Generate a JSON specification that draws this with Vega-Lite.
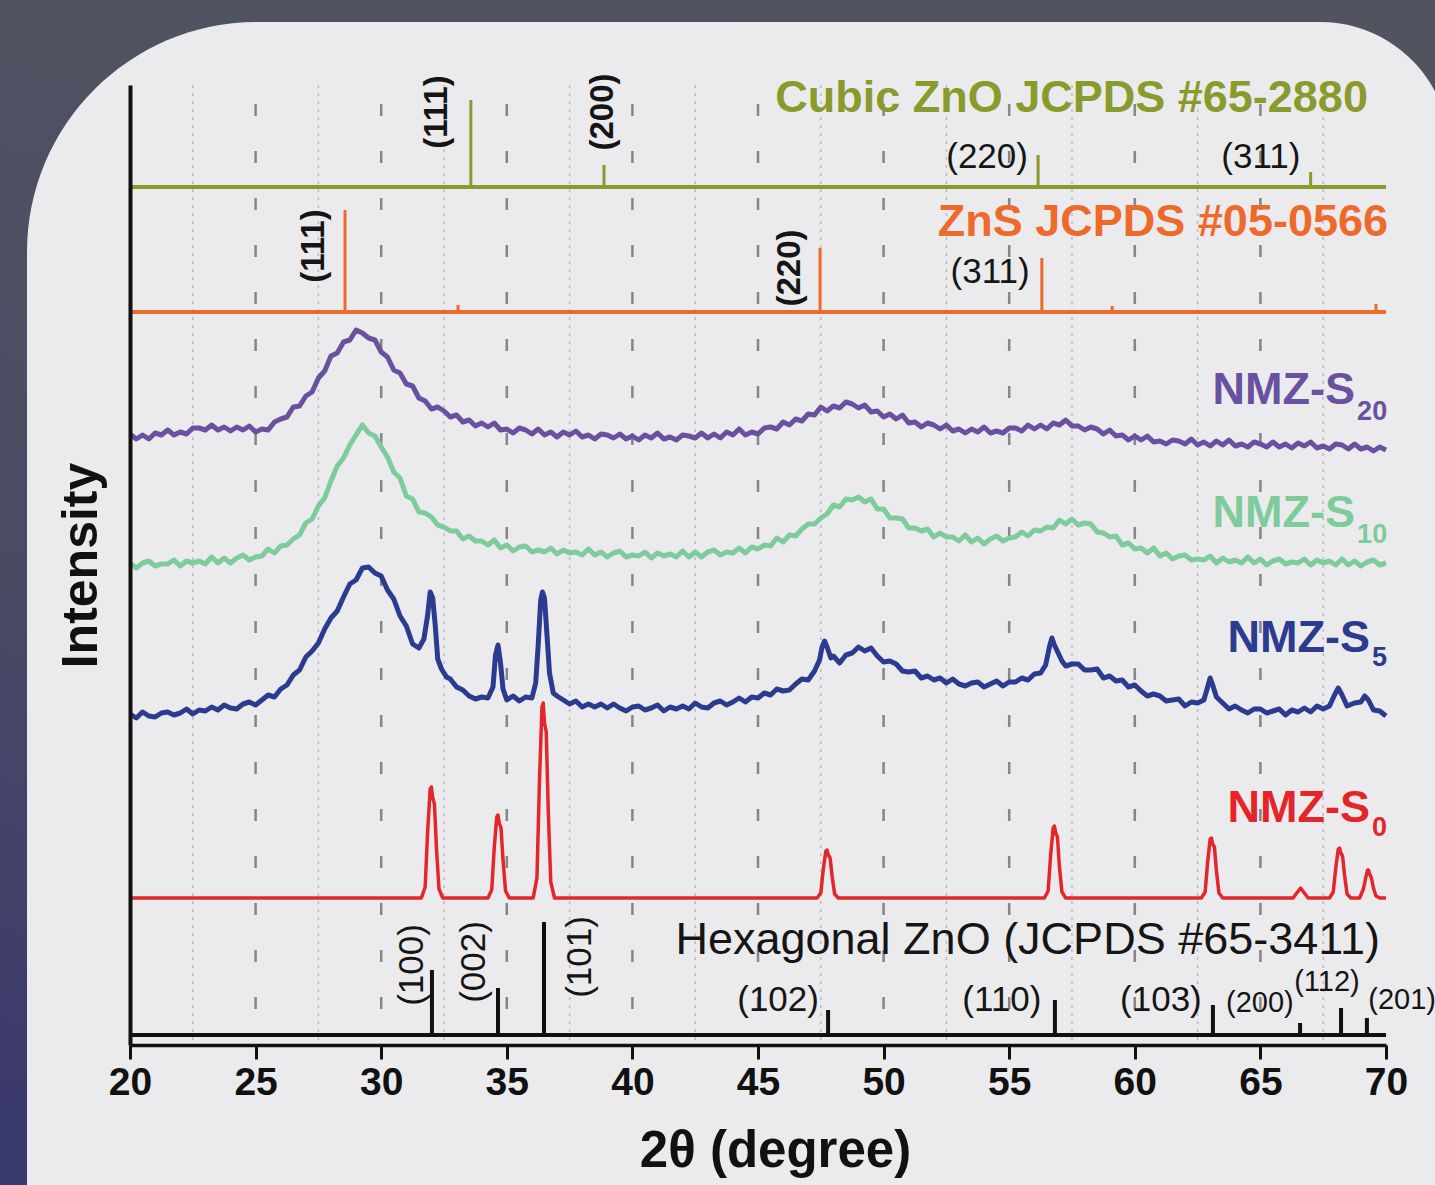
{
"$schema": "https://vega.github.io/schema/vega-lite/v6.json",
"width": 1256, "height": 960,
"autosize": {"type": "none"},
"padding": {"left": 130, "top": 85, "right": 49, "bottom": 140},
"background": "#4b4e60",
"config": {"view": {"stroke": null}, "font": "Liberation Sans"},
"datasets": {
"minor": [{"t":22.5},{"t":27.5},{"t":32.5},{"t":37.5},{"t":42.5},{"t":47.5},{"t":52.5},{"t":57.5},{"t":62.5},{"t":67.5}],
"major": [{"t":25},{"t":30},{"t":35},{"t":40},{"t":45},{"t":50},{"t":55},{"t":60},{"t":65}],
"bases": [{"c":"cubic","v":858},{"c":"zns","v":733},{"c":"hex","v":10}],
"sticks": [
{"c":"cubic","t":33.57,"v":945},{"c":"cubic","t":38.87,"v":880},{"c":"cubic","t":56.15,"v":890},{"c":"cubic","t":67.0,"v":873},
{"c":"zns","t":28.56,"v":835},{"c":"zns","t":33.06,"v":740},{"c":"zns","t":47.47,"v":797},{"c":"zns","t":56.3,"v":787},{"c":"zns","t":59.1,"v":739},{"c":"zns","t":69.6,"v":741},
{"c":"hex","t":32.02,"v":75},{"c":"hex","t":34.65,"v":57},{"c":"hex","t":36.48,"v":123},{"c":"hex","t":47.79,"v":35},{"c":"hex","t":56.82,"v":45},{"c":"hex","t":63.11,"v":40},{"c":"hex","t":66.58,"v":22},{"c":"hex","t":68.21,"v":37},{"c":"hex","t":69.24,"v":27}],
"big": [
{"c":"cubic","txt":"Cubic ZnO JCPDS #65-2880","t":69.28,"v":947},
{"c":"zns","txt":"ZnS JCPDS #05-0566","t":70.08,"v":823},
{"c":"S20","txt":"NMZ-S","t":68.77,"v":655},
{"c":"S10","txt":"NMZ-S","t":68.77,"v":532},
{"c":"S5","txt":"NMZ-S","t":69.36,"v":407},
{"c":"S0","txt":"NMZ-S","t":69.36,"v":237}],
"subs": [
{"c":"S20","txt":"20","t":68.85,"v":633},
{"c":"S10","txt":"10","t":68.85,"v":510},
{"c":"S5","txt":"5","t":69.44,"v":387},
{"c":"S0","txt":"0","t":69.44,"v":217}],
"hexlabel": [{"txt":"Hexagonal ZnO (JCPDS #65-3411)","t":69.76,"v":105}],
"millerH": [
{"txt":"(220)","t":54.12,"v":888},{"txt":"(311)","t":65.02,"v":888},{"txt":"(311)","t":54.24,"v":773},
{"txt":"(102)","t":45.8,"v":45},{"txt":"(110)","t":54.71,"v":45},{"txt":"(103)","t":61.04,"v":45}],
"millerS": [{"txt":"(200)","t":64.98,"v":42},{"txt":"(112)","t":67.65,"v":63},{"txt":"(201)","t":70.64,"v":45}],
"millerRtop": [
{"txt":"(111)","t":32.22,"v":933},{"txt":"(200)","t":38.83,"v":933},{"txt":"(111)","t":27.33,"v":799},{"txt":"(220)","t":46.27,"v":777}],
"millerR": [
{"txt":"(100)","t":31.23,"v":80},{"txt":"(002)","t":33.69,"v":83},{"txt":"(101)","t":37.91,"v":88}],
"curves": [
{"c":"S20","t":20,"v":611},{"c":"S20","t":20.25,"v":606},{"c":"S20","t":20.5,"v":610},{"c":"S20","t":20.75,"v":606},{"c":"S20","t":21,"v":612},{"c":"S20","t":21.25,"v":610},{"c":"S20","t":21.5,"v":615},{"c":"S20","t":21.75,"v":610},{"c":"S20","t":22,"v":613},{"c":"S20","t":22.25,"v":611},{"c":"S20","t":22.5,"v":617},{"c":"S20","t":22.75,"v":617},{"c":"S20","t":23,"v":615},{"c":"S20","t":23.25,"v":620},{"c":"S20","t":23.5,"v":615},{"c":"S20","t":23.75,"v":618},{"c":"S20","t":24,"v":614},{"c":"S20","t":24.25,"v":618},{"c":"S20","t":24.5,"v":615},{"c":"S20","t":24.75,"v":619},{"c":"S20","t":25,"v":613},{"c":"S20","t":25.25,"v":616},{"c":"S20","t":25.5,"v":615},{"c":"S20","t":25.75,"v":623},{"c":"S20","t":26,"v":626},{"c":"S20","t":26.25,"v":628},{"c":"S20","t":26.5,"v":638},{"c":"S20","t":26.75,"v":639},{"c":"S20","t":27,"v":649},{"c":"S20","t":27.25,"v":653},{"c":"S20","t":27.5,"v":667},{"c":"S20","t":27.75,"v":674},{"c":"S20","t":28,"v":689},{"c":"S20","t":28.25,"v":692},{"c":"S20","t":28.5,"v":703},{"c":"S20","t":28.75,"v":705},{"c":"S20","t":29,"v":715},{"c":"S20","t":29.25,"v":712},{"c":"S20","t":29.5,"v":707},{"c":"S20","t":29.75,"v":705},{"c":"S20","t":30,"v":693},{"c":"S20","t":30.25,"v":688},{"c":"S20","t":30.5,"v":675},{"c":"S20","t":30.75,"v":672},{"c":"S20","t":31,"v":661},{"c":"S20","t":31.25,"v":659},{"c":"S20","t":31.5,"v":647},{"c":"S20","t":31.75,"v":644},{"c":"S20","t":32,"v":636},{"c":"S20","t":32.25,"v":638},{"c":"S20","t":32.5,"v":634},{"c":"S20","t":32.75,"v":628},{"c":"S20","t":33,"v":630},{"c":"S20","t":33.25,"v":623},{"c":"S20","t":33.5,"v":625},{"c":"S20","t":33.75,"v":619},{"c":"S20","t":34,"v":622},{"c":"S20","t":34.25,"v":618},{"c":"S20","t":34.5,"v":622},{"c":"S20","t":34.75,"v":615},{"c":"S20","t":35,"v":616},{"c":"S20","t":35.25,"v":612},{"c":"S20","t":35.5,"v":617},{"c":"S20","t":35.75,"v":615},{"c":"S20","t":36,"v":611},{"c":"S20","t":36.25,"v":616},{"c":"S20","t":36.5,"v":610},{"c":"S20","t":36.75,"v":613},{"c":"S20","t":37,"v":608},{"c":"S20","t":37.25,"v":613},{"c":"S20","t":37.5,"v":610},{"c":"S20","t":37.75,"v":614},{"c":"S20","t":38,"v":608},{"c":"S20","t":38.25,"v":610},{"c":"S20","t":38.5,"v":606},{"c":"S20","t":38.75,"v":611},{"c":"S20","t":39,"v":610},{"c":"S20","t":39.25,"v":607},{"c":"S20","t":39.5,"v":611},{"c":"S20","t":39.75,"v":606},{"c":"S20","t":40,"v":609},{"c":"S20","t":40.25,"v":605},{"c":"S20","t":40.5,"v":610},{"c":"S20","t":40.75,"v":607},{"c":"S20","t":41,"v":612},{"c":"S20","t":41.25,"v":606},{"c":"S20","t":41.5,"v":608},{"c":"S20","t":41.75,"v":605},{"c":"S20","t":42,"v":610},{"c":"S20","t":42.25,"v":609},{"c":"S20","t":42.5,"v":607},{"c":"S20","t":42.75,"v":612},{"c":"S20","t":43,"v":607},{"c":"S20","t":43.25,"v":611},{"c":"S20","t":43.5,"v":607},{"c":"S20","t":43.75,"v":613},{"c":"S20","t":44,"v":610},{"c":"S20","t":44.25,"v":616},{"c":"S20","t":44.5,"v":610},{"c":"S20","t":44.75,"v":613},{"c":"S20","t":45,"v":611},{"c":"S20","t":45.25,"v":617},{"c":"S20","t":45.5,"v":618},{"c":"S20","t":45.75,"v":616},{"c":"S20","t":46,"v":623},{"c":"S20","t":46.25,"v":620},{"c":"S20","t":46.5,"v":626},{"c":"S20","t":46.75,"v":624},{"c":"S20","t":47,"v":631},{"c":"S20","t":47.25,"v":630},{"c":"S20","t":47.5,"v":638},{"c":"S20","t":47.75,"v":634},{"c":"S20","t":48,"v":639},{"c":"S20","t":48.25,"v":637},{"c":"S20","t":48.5,"v":643},{"c":"S20","t":48.75,"v":641},{"c":"S20","t":49,"v":637},{"c":"S20","t":49.25,"v":640},{"c":"S20","t":49.5,"v":633},{"c":"S20","t":49.75,"v":634},{"c":"S20","t":50,"v":628},{"c":"S20","t":50.25,"v":631},{"c":"S20","t":50.5,"v":626},{"c":"S20","t":50.75,"v":630},{"c":"S20","t":51,"v":622},{"c":"S20","t":51.25,"v":623},{"c":"S20","t":51.5,"v":618},{"c":"S20","t":51.75,"v":622},{"c":"S20","t":52,"v":620},{"c":"S20","t":52.25,"v":616},{"c":"S20","t":52.5,"v":620},{"c":"S20","t":52.75,"v":614},{"c":"S20","t":53,"v":616},{"c":"S20","t":53.25,"v":612},{"c":"S20","t":53.5,"v":616},{"c":"S20","t":53.75,"v":613},{"c":"S20","t":54,"v":618},{"c":"S20","t":54.25,"v":612},{"c":"S20","t":54.5,"v":614},{"c":"S20","t":54.75,"v":612},{"c":"S20","t":55,"v":617},{"c":"S20","t":55.25,"v":617},{"c":"S20","t":55.5,"v":614},{"c":"S20","t":55.75,"v":620},{"c":"S20","t":56,"v":616},{"c":"S20","t":56.25,"v":620},{"c":"S20","t":56.5,"v":616},{"c":"S20","t":56.75,"v":622},{"c":"S20","t":57,"v":620},{"c":"S20","t":57.25,"v":625},{"c":"S20","t":57.5,"v":619},{"c":"S20","t":57.75,"v":619},{"c":"S20","t":58,"v":615},{"c":"S20","t":58.25,"v":618},{"c":"S20","t":58.5,"v":616},{"c":"S20","t":58.75,"v":611},{"c":"S20","t":59,"v":615},{"c":"S20","t":59.25,"v":609},{"c":"S20","t":59.5,"v":610},{"c":"S20","t":59.75,"v":605},{"c":"S20","t":60,"v":609},{"c":"S20","t":60.25,"v":605},{"c":"S20","t":60.5,"v":609},{"c":"S20","t":60.75,"v":603},{"c":"S20","t":61,"v":604},{"c":"S20","t":61.25,"v":601},{"c":"S20","t":61.5,"v":605},{"c":"S20","t":61.75,"v":604},{"c":"S20","t":62,"v":601},{"c":"S20","t":62.25,"v":606},{"c":"S20","t":62.5,"v":600},{"c":"S20","t":62.75,"v":603},{"c":"S20","t":63,"v":599},{"c":"S20","t":63.25,"v":604},{"c":"S20","t":63.5,"v":600},{"c":"S20","t":63.75,"v":605},{"c":"S20","t":64,"v":599},{"c":"S20","t":64.25,"v":601},{"c":"S20","t":64.5,"v":598},{"c":"S20","t":64.75,"v":603},{"c":"S20","t":65,"v":601},{"c":"S20","t":65.25,"v":598},{"c":"S20","t":65.5,"v":603},{"c":"S20","t":65.75,"v":598},{"c":"S20","t":66,"v":601},{"c":"S20","t":66.25,"v":597},{"c":"S20","t":66.5,"v":602},{"c":"S20","t":66.75,"v":599},{"c":"S20","t":67,"v":603},{"c":"S20","t":67.25,"v":597},{"c":"S20","t":67.5,"v":599},{"c":"S20","t":67.75,"v":596},{"c":"S20","t":68,"v":601},{"c":"S20","t":68.25,"v":600},{"c":"S20","t":68.5,"v":596},{"c":"S20","t":68.75,"v":601},{"c":"S20","t":69,"v":596},{"c":"S20","t":69.25,"v":598},{"c":"S20","t":69.5,"v":594},{"c":"S20","t":69.75,"v":598},{"c":"S20","t":70,"v":595},
{"c":"S10","t":20,"v":482},{"c":"S10","t":20.25,"v":477},{"c":"S10","t":20.5,"v":482},{"c":"S10","t":20.75,"v":484},{"c":"S10","t":21,"v":479},{"c":"S10","t":21.25,"v":481},{"c":"S10","t":21.5,"v":481},{"c":"S10","t":21.75,"v":485},{"c":"S10","t":22,"v":479},{"c":"S10","t":22.25,"v":484},{"c":"S10","t":22.5,"v":482},{"c":"S10","t":22.75,"v":484},{"c":"S10","t":23,"v":481},{"c":"S10","t":23.25,"v":488},{"c":"S10","t":23.5,"v":482},{"c":"S10","t":23.75,"v":487},{"c":"S10","t":24,"v":482},{"c":"S10","t":24.25,"v":487},{"c":"S10","t":24.5,"v":490},{"c":"S10","t":24.75,"v":485},{"c":"S10","t":25,"v":488},{"c":"S10","t":25.25,"v":489},{"c":"S10","t":25.5,"v":496},{"c":"S10","t":25.75,"v":492},{"c":"S10","t":26,"v":499},{"c":"S10","t":26.25,"v":500},{"c":"S10","t":26.5,"v":506},{"c":"S10","t":26.75,"v":510},{"c":"S10","t":27,"v":522},{"c":"S10","t":27.25,"v":526},{"c":"S10","t":27.5,"v":539},{"c":"S10","t":27.75,"v":547},{"c":"S10","t":28,"v":564},{"c":"S10","t":28.25,"v":579},{"c":"S10","t":28.5,"v":587},{"c":"S10","t":28.75,"v":600},{"c":"S10","t":29,"v":610},{"c":"S10","t":29.25,"v":620},{"c":"S10","t":29.5,"v":612},{"c":"S10","t":29.75,"v":609},{"c":"S10","t":30,"v":598},{"c":"S10","t":30.25,"v":588},{"c":"S10","t":30.5,"v":573},{"c":"S10","t":30.75,"v":567},{"c":"S10","t":31,"v":549},{"c":"S10","t":31.25,"v":546},{"c":"S10","t":31.5,"v":533},{"c":"S10","t":31.75,"v":532},{"c":"S10","t":32,"v":528},{"c":"S10","t":32.25,"v":520},{"c":"S10","t":32.5,"v":518},{"c":"S10","t":32.75,"v":514},{"c":"S10","t":33,"v":514},{"c":"S10","t":33.25,"v":506},{"c":"S10","t":33.5,"v":509},{"c":"S10","t":33.75,"v":504},{"c":"S10","t":34,"v":504},{"c":"S10","t":34.25,"v":500},{"c":"S10","t":34.5,"v":505},{"c":"S10","t":34.75,"v":497},{"c":"S10","t":35,"v":500},{"c":"S10","t":35.25,"v":494},{"c":"S10","t":35.5,"v":498},{"c":"S10","t":35.75,"v":499},{"c":"S10","t":36,"v":493},{"c":"S10","t":36.25,"v":495},{"c":"S10","t":36.5,"v":493},{"c":"S10","t":36.75,"v":497},{"c":"S10","t":37,"v":491},{"c":"S10","t":37.25,"v":495},{"c":"S10","t":37.5,"v":492},{"c":"S10","t":37.75,"v":493},{"c":"S10","t":38,"v":490},{"c":"S10","t":38.25,"v":496},{"c":"S10","t":38.5,"v":490},{"c":"S10","t":38.75,"v":493},{"c":"S10","t":39,"v":488},{"c":"S10","t":39.25,"v":492},{"c":"S10","t":39.5,"v":494},{"c":"S10","t":39.75,"v":488},{"c":"S10","t":40,"v":490},{"c":"S10","t":40.25,"v":489},{"c":"S10","t":40.5,"v":493},{"c":"S10","t":40.75,"v":487},{"c":"S10","t":41,"v":492},{"c":"S10","t":41.25,"v":489},{"c":"S10","t":41.5,"v":491},{"c":"S10","t":41.75,"v":488},{"c":"S10","t":42,"v":494},{"c":"S10","t":42.25,"v":488},{"c":"S10","t":42.5,"v":493},{"c":"S10","t":42.75,"v":488},{"c":"S10","t":43,"v":493},{"c":"S10","t":43.25,"v":495},{"c":"S10","t":43.5,"v":490},{"c":"S10","t":43.75,"v":493},{"c":"S10","t":44,"v":492},{"c":"S10","t":44.25,"v":497},{"c":"S10","t":44.5,"v":492},{"c":"S10","t":44.75,"v":498},{"c":"S10","t":45,"v":496},{"c":"S10","t":45.25,"v":500},{"c":"S10","t":45.5,"v":499},{"c":"S10","t":45.75,"v":507},{"c":"S10","t":46,"v":503},{"c":"S10","t":46.25,"v":510},{"c":"S10","t":46.5,"v":509},{"c":"S10","t":46.75,"v":516},{"c":"S10","t":47,"v":521},{"c":"S10","t":47.25,"v":521},{"c":"S10","t":47.5,"v":527},{"c":"S10","t":47.75,"v":531},{"c":"S10","t":48,"v":540},{"c":"S10","t":48.25,"v":538},{"c":"S10","t":48.5,"v":546},{"c":"S10","t":48.75,"v":545},{"c":"S10","t":49,"v":548},{"c":"S10","t":49.25,"v":543},{"c":"S10","t":49.5,"v":546},{"c":"S10","t":49.75,"v":536},{"c":"S10","t":50,"v":536},{"c":"S10","t":50.25,"v":527},{"c":"S10","t":50.5,"v":527},{"c":"S10","t":50.75,"v":526},{"c":"S10","t":51,"v":517},{"c":"S10","t":51.25,"v":517},{"c":"S10","t":51.5,"v":514},{"c":"S10","t":51.75,"v":516},{"c":"S10","t":52,"v":508},{"c":"S10","t":52.25,"v":512},{"c":"S10","t":52.5,"v":508},{"c":"S10","t":52.75,"v":508},{"c":"S10","t":53,"v":504},{"c":"S10","t":53.25,"v":510},{"c":"S10","t":53.5,"v":503},{"c":"S10","t":53.75,"v":507},{"c":"S10","t":54,"v":501},{"c":"S10","t":54.25,"v":506},{"c":"S10","t":54.5,"v":509},{"c":"S10","t":54.75,"v":504},{"c":"S10","t":55,"v":507},{"c":"S10","t":55.25,"v":508},{"c":"S10","t":55.5,"v":513},{"c":"S10","t":55.75,"v":509},{"c":"S10","t":56,"v":515},{"c":"S10","t":56.25,"v":514},{"c":"S10","t":56.5,"v":518},{"c":"S10","t":56.75,"v":517},{"c":"S10","t":57,"v":525},{"c":"S10","t":57.25,"v":521},{"c":"S10","t":57.5,"v":526},{"c":"S10","t":57.75,"v":520},{"c":"S10","t":58,"v":522},{"c":"S10","t":58.25,"v":521},{"c":"S10","t":58.5,"v":513},{"c":"S10","t":58.75,"v":512},{"c":"S10","t":59,"v":508},{"c":"S10","t":59.25,"v":509},{"c":"S10","t":59.5,"v":500},{"c":"S10","t":59.75,"v":502},{"c":"S10","t":60,"v":496},{"c":"S10","t":60.25,"v":497},{"c":"S10","t":60.5,"v":492},{"c":"S10","t":60.75,"v":497},{"c":"S10","t":61,"v":489},{"c":"S10","t":61.25,"v":492},{"c":"S10","t":61.5,"v":486},{"c":"S10","t":61.75,"v":489},{"c":"S10","t":62,"v":490},{"c":"S10","t":62.25,"v":485},{"c":"S10","t":62.5,"v":486},{"c":"S10","t":62.75,"v":485},{"c":"S10","t":63,"v":489},{"c":"S10","t":63.25,"v":482},{"c":"S10","t":63.5,"v":487},{"c":"S10","t":63.75,"v":483},{"c":"S10","t":64,"v":485},{"c":"S10","t":64.25,"v":482},{"c":"S10","t":64.5,"v":488},{"c":"S10","t":64.75,"v":482},{"c":"S10","t":65,"v":486},{"c":"S10","t":65.25,"v":480},{"c":"S10","t":65.5,"v":484},{"c":"S10","t":65.75,"v":486},{"c":"S10","t":66,"v":481},{"c":"S10","t":66.25,"v":483},{"c":"S10","t":66.5,"v":482},{"c":"S10","t":66.75,"v":486},{"c":"S10","t":67,"v":480},{"c":"S10","t":67.25,"v":485},{"c":"S10","t":67.5,"v":482},{"c":"S10","t":67.75,"v":484},{"c":"S10","t":68,"v":480},{"c":"S10","t":68.25,"v":486},{"c":"S10","t":68.5,"v":480},{"c":"S10","t":68.75,"v":484},{"c":"S10","t":69,"v":479},{"c":"S10","t":69.25,"v":483},{"c":"S10","t":69.5,"v":485},{"c":"S10","t":69.75,"v":480},{"c":"S10","t":70,"v":482},
{"c":"S5","t":20,"v":331},{"c":"S5","t":20.25,"v":327},{"c":"S5","t":20.5,"v":333},{"c":"S5","t":20.75,"v":329},{"c":"S5","t":21,"v":328},{"c":"S5","t":21.25,"v":332},{"c":"S5","t":21.5,"v":333},{"c":"S5","t":21.75,"v":330},{"c":"S5","t":22,"v":332},{"c":"S5","t":22.25,"v":336},{"c":"S5","t":22.5,"v":331},{"c":"S5","t":22.75,"v":335},{"c":"S5","t":23,"v":334},{"c":"S5","t":23.25,"v":338},{"c":"S5","t":23.5,"v":335},{"c":"S5","t":23.75,"v":340},{"c":"S5","t":24,"v":337},{"c":"S5","t":24.25,"v":336},{"c":"S5","t":24.5,"v":341},{"c":"S5","t":24.75,"v":343},{"c":"S5","t":25,"v":340},{"c":"S5","t":25.25,"v":345},{"c":"S5","t":25.5,"v":350},{"c":"S5","t":25.75,"v":348},{"c":"S5","t":26,"v":356},{"c":"S5","t":26.25,"v":360},{"c":"S5","t":26.5,"v":370},{"c":"S5","t":26.75,"v":375},{"c":"S5","t":27,"v":388},{"c":"S5","t":27.25,"v":394},{"c":"S5","t":27.5,"v":402},{"c":"S5","t":27.75,"v":416},{"c":"S5","t":28,"v":427},{"c":"S5","t":28.25,"v":434},{"c":"S5","t":28.5,"v":448},{"c":"S5","t":28.75,"v":461},{"c":"S5","t":29,"v":465},{"c":"S5","t":29.25,"v":477},{"c":"S5","t":29.5,"v":478},{"c":"S5","t":29.75,"v":472},{"c":"S5","t":30,"v":469},{"c":"S5","t":30.25,"v":455},{"c":"S5","t":30.5,"v":446},{"c":"S5","t":30.75,"v":429},{"c":"S5","t":31,"v":419},{"c":"S5","t":31.25,"v":401},{"c":"S5","t":31.5,"v":397},{"c":"S5","t":31.7,"v":406},{"c":"S5","t":31.85,"v":430},{"c":"S5","t":31.95,"v":453},{"c":"S5","t":32.05,"v":447},{"c":"S5","t":32.15,"v":420},{"c":"S5","t":32.25,"v":386},{"c":"S5","t":32.4,"v":376},{"c":"S5","t":32.6,"v":368},{"c":"S5","t":32.75,"v":366},{"c":"S5","t":33,"v":358},{"c":"S5","t":33.25,"v":355},{"c":"S5","t":33.5,"v":349},{"c":"S5","t":33.75,"v":346},{"c":"S5","t":34,"v":348},{"c":"S5","t":34.25,"v":347},{"c":"S5","t":34.45,"v":358},{"c":"S5","t":34.55,"v":390},{"c":"S5","t":34.65,"v":400},{"c":"S5","t":34.75,"v":382},{"c":"S5","t":34.85,"v":356},{"c":"S5","t":35,"v":345},{"c":"S5","t":35.25,"v":349},{"c":"S5","t":35.5,"v":344},{"c":"S5","t":35.75,"v":348},{"c":"S5","t":36,"v":347},{"c":"S5","t":36.15,"v":362},{"c":"S5","t":36.25,"v":400},{"c":"S5","t":36.35,"v":445},{"c":"S5","t":36.42,"v":453},{"c":"S5","t":36.5,"v":447},{"c":"S5","t":36.6,"v":410},{"c":"S5","t":36.7,"v":372},{"c":"S5","t":36.85,"v":352},{"c":"S5","t":37,"v":349},{"c":"S5","t":37.25,"v":345},{"c":"S5","t":37.5,"v":341},{"c":"S5","t":37.75,"v":344},{"c":"S5","t":38,"v":338},{"c":"S5","t":38.25,"v":341},{"c":"S5","t":38.5,"v":338},{"c":"S5","t":38.75,"v":341},{"c":"S5","t":39,"v":337},{"c":"S5","t":39.25,"v":341},{"c":"S5","t":39.5,"v":337},{"c":"S5","t":39.75,"v":334},{"c":"S5","t":40,"v":338},{"c":"S5","t":40.25,"v":339},{"c":"S5","t":40.5,"v":335},{"c":"S5","t":40.75,"v":337},{"c":"S5","t":41,"v":340},{"c":"S5","t":41.25,"v":334},{"c":"S5","t":41.5,"v":338},{"c":"S5","t":41.75,"v":336},{"c":"S5","t":42,"v":339},{"c":"S5","t":42.25,"v":336},{"c":"S5","t":42.5,"v":342},{"c":"S5","t":42.75,"v":338},{"c":"S5","t":43,"v":337},{"c":"S5","t":43.25,"v":342},{"c":"S5","t":43.5,"v":344},{"c":"S5","t":43.75,"v":340},{"c":"S5","t":44,"v":343},{"c":"S5","t":44.25,"v":347},{"c":"S5","t":44.5,"v":343},{"c":"S5","t":44.75,"v":348},{"c":"S5","t":45,"v":347},{"c":"S5","t":45.25,"v":352},{"c":"S5","t":45.5,"v":350},{"c":"S5","t":45.75,"v":356},{"c":"S5","t":46,"v":354},{"c":"S5","t":46.25,"v":355},{"c":"S5","t":46.5,"v":361},{"c":"S5","t":46.75,"v":366},{"c":"S5","t":47,"v":365},{"c":"S5","t":47.25,"v":374},{"c":"S5","t":47.45,"v":385},{"c":"S5","t":47.55,"v":398},{"c":"S5","t":47.65,"v":404},{"c":"S5","t":47.75,"v":398},{"c":"S5","t":47.9,"v":387},{"c":"S5","t":48,"v":389},{"c":"S5","t":48.25,"v":382},{"c":"S5","t":48.5,"v":390},{"c":"S5","t":48.75,"v":392},{"c":"S5","t":49,"v":398},{"c":"S5","t":49.25,"v":394},{"c":"S5","t":49.5,"v":397},{"c":"S5","t":49.75,"v":389},{"c":"S5","t":50,"v":383},{"c":"S5","t":50.25,"v":384},{"c":"S5","t":50.5,"v":381},{"c":"S5","t":50.75,"v":374},{"c":"S5","t":51,"v":373},{"c":"S5","t":51.25,"v":374},{"c":"S5","t":51.5,"v":367},{"c":"S5","t":51.75,"v":369},{"c":"S5","t":52,"v":365},{"c":"S5","t":52.25,"v":367},{"c":"S5","t":52.5,"v":362},{"c":"S5","t":52.75,"v":366},{"c":"S5","t":53,"v":361},{"c":"S5","t":53.25,"v":359},{"c":"S5","t":53.5,"v":362},{"c":"S5","t":53.75,"v":363},{"c":"S5","t":54,"v":358},{"c":"S5","t":54.25,"v":361},{"c":"S5","t":54.5,"v":364},{"c":"S5","t":54.75,"v":359},{"c":"S5","t":55,"v":363},{"c":"S5","t":55.25,"v":363},{"c":"S5","t":55.5,"v":367},{"c":"S5","t":55.75,"v":365},{"c":"S5","t":56,"v":371},{"c":"S5","t":56.25,"v":372},{"c":"S5","t":56.45,"v":380},{"c":"S5","t":56.6,"v":398},{"c":"S5","t":56.7,"v":407},{"c":"S5","t":56.8,"v":400},{"c":"S5","t":56.95,"v":392},{"c":"S5","t":57.1,"v":384},{"c":"S5","t":57.25,"v":379},{"c":"S5","t":57.5,"v":381},{"c":"S5","t":57.75,"v":381},{"c":"S5","t":58,"v":375},{"c":"S5","t":58.25,"v":375},{"c":"S5","t":58.5,"v":376},{"c":"S5","t":58.75,"v":367},{"c":"S5","t":59,"v":369},{"c":"S5","t":59.25,"v":364},{"c":"S5","t":59.5,"v":365},{"c":"S5","t":59.75,"v":358},{"c":"S5","t":60,"v":360},{"c":"S5","t":60.25,"v":354},{"c":"S5","t":60.5,"v":349},{"c":"S5","t":60.75,"v":351},{"c":"S5","t":61,"v":349},{"c":"S5","t":61.25,"v":344},{"c":"S5","t":61.5,"v":345},{"c":"S5","t":61.75,"v":346},{"c":"S5","t":62,"v":339},{"c":"S5","t":62.25,"v":343},{"c":"S5","t":62.5,"v":342},{"c":"S5","t":62.75,"v":345},{"c":"S5","t":62.9,"v":358},{"c":"S5","t":63,"v":367},{"c":"S5","t":63.1,"v":360},{"c":"S5","t":63.25,"v":348},{"c":"S5","t":63.5,"v":342},{"c":"S5","t":63.75,"v":336},{"c":"S5","t":64,"v":339},{"c":"S5","t":64.25,"v":335},{"c":"S5","t":64.5,"v":332},{"c":"S5","t":64.75,"v":336},{"c":"S5","t":65,"v":336},{"c":"S5","t":65.25,"v":332},{"c":"S5","t":65.5,"v":334},{"c":"S5","t":65.75,"v":336},{"c":"S5","t":66,"v":330},{"c":"S5","t":66.25,"v":335},{"c":"S5","t":66.5,"v":333},{"c":"S5","t":66.75,"v":337},{"c":"S5","t":67,"v":333},{"c":"S5","t":67.25,"v":339},{"c":"S5","t":67.5,"v":336},{"c":"S5","t":67.75,"v":339},{"c":"S5","t":67.95,"v":350},{"c":"S5","t":68.1,"v":357},{"c":"S5","t":68.25,"v":350},{"c":"S5","t":68.45,"v":339},{"c":"S5","t":68.75,"v":342},{"c":"S5","t":69,"v":343},{"c":"S5","t":69.15,"v":349},{"c":"S5","t":69.3,"v":345},{"c":"S5","t":69.5,"v":335},{"c":"S5","t":69.75,"v":334},{"c":"S5","t":70,"v":329},
{"c":"S0","t":20,"v":147},{"c":"S0","t":31.6,"v":147},{"c":"S0","t":31.75,"v":158},{"c":"S0","t":31.85,"v":214},{"c":"S0","t":31.95,"v":256},{"c":"S0","t":32,"v":258},{"c":"S0","t":32.05,"v":247},{"c":"S0","t":32.12,"v":241},{"c":"S0","t":32.2,"v":197},{"c":"S0","t":32.3,"v":156},{"c":"S0","t":32.45,"v":147},{"c":"S0","t":34.25,"v":147},{"c":"S0","t":34.4,"v":155},{"c":"S0","t":34.5,"v":197},{"c":"S0","t":34.6,"v":228},{"c":"S0","t":34.65,"v":230},{"c":"S0","t":34.7,"v":222},{"c":"S0","t":34.77,"v":217},{"c":"S0","t":34.85,"v":185},{"c":"S0","t":34.95,"v":154},{"c":"S0","t":35.1,"v":147},{"c":"S0","t":36.05,"v":147},{"c":"S0","t":36.2,"v":167},{"c":"S0","t":36.3,"v":264},{"c":"S0","t":36.4,"v":338},{"c":"S0","t":36.45,"v":342},{"c":"S0","t":36.5,"v":322},{"c":"S0","t":36.57,"v":313},{"c":"S0","t":36.65,"v":235},{"c":"S0","t":36.75,"v":163},{"c":"S0","t":36.9,"v":147},{"c":"S0","t":47.35,"v":147},{"c":"S0","t":47.5,"v":152},{"c":"S0","t":47.6,"v":176},{"c":"S0","t":47.7,"v":194},{"c":"S0","t":47.75,"v":195},{"c":"S0","t":47.8,"v":190},{"c":"S0","t":47.87,"v":187},{"c":"S0","t":47.95,"v":169},{"c":"S0","t":48.05,"v":151},{"c":"S0","t":48.2,"v":147},{"c":"S0","t":56.4,"v":147},{"c":"S0","t":56.55,"v":154},{"c":"S0","t":56.65,"v":190},{"c":"S0","t":56.75,"v":217},{"c":"S0","t":56.8,"v":219},{"c":"S0","t":56.85,"v":212},{"c":"S0","t":56.92,"v":208},{"c":"S0","t":57,"v":178},{"c":"S0","t":57.1,"v":153},{"c":"S0","t":57.25,"v":147},{"c":"S0","t":62.65,"v":147},{"c":"S0","t":62.8,"v":153},{"c":"S0","t":62.9,"v":183},{"c":"S0","t":63,"v":206},{"c":"S0","t":63.05,"v":207},{"c":"S0","t":63.1,"v":201},{"c":"S0","t":63.17,"v":198},{"c":"S0","t":63.25,"v":174},{"c":"S0","t":63.35,"v":152},{"c":"S0","t":63.5,"v":147},{"c":"S0","t":66.3,"v":147},{"c":"S0","t":66.45,"v":152},{"c":"S0","t":66.6,"v":157},{"c":"S0","t":66.75,"v":152},{"c":"S0","t":66.9,"v":147},{"c":"S0","t":67.75,"v":147},{"c":"S0","t":67.9,"v":153},{"c":"S0","t":68,"v":177},{"c":"S0","t":68.1,"v":196},{"c":"S0","t":68.15,"v":197},{"c":"S0","t":68.2,"v":192},{"c":"S0","t":68.27,"v":189},{"c":"S0","t":68.35,"v":170},{"c":"S0","t":68.45,"v":151},{"c":"S0","t":68.6,"v":147},{"c":"S0","t":68.95,"v":147},{"c":"S0","t":69.1,"v":156},{"c":"S0","t":69.2,"v":168},{"c":"S0","t":69.27,"v":175},{"c":"S0","t":69.3,"v":175},{"c":"S0","t":69.35,"v":171},{"c":"S0","t":69.42,"v":167},{"c":"S0","t":69.5,"v":157},{"c":"S0","t":69.6,"v":149},{"c":"S0","t":69.75,"v":147},{"c":"S0","t":70,"v":147}
]
},
"layer": [
{
"data": {"values": [{}]},
"mark": {"type": "rect", "fill": {"gradient": "linear", "x1": 0.6, "y1": 0, "x2": 0.3, "y2": 1, "stops": [{"offset": 0.1, "color": "#51545f"}, {"offset": 0.55, "color": "#4a4c64"}, {"offset": 0.9, "color": "#3b3a6c"}]}},
"encoding": {
"x": {"datum": 10, "type": "quantitative", "scale": {"domain": [20, 70], "nice": false, "zero": false}},
"x2": {"datum": 76},
"y": {"datum": -320, "type": "quantitative", "scale": {"domain": [0, 960], "nice": false, "zero": false}},
"y2": {"datum": 1180}
}
},
{
"data": {"values": [{}]},
"mark": {"type": "rect", "fill": "#ebebed", "cornerRadiusTopLeft": 230, "cornerRadiusTopRight": 130},
"encoding": {
"x": {"datum": 15.9, "type": "quantitative", "scale": {"domain": [20, 70], "nice": false, "zero": false}},
"x2": {"datum": 72.55},
"y": {"datum": 1023, "type": "quantitative", "scale": {"domain": [0, 960], "nice": false, "zero": false}},
"y2": {"datum": -250}
}
},
{
"data": {"name": "minor"},
"mark": {"type": "rule", "color": "#bcbcc2", "strokeWidth": 1.5, "strokeDash": [3, 5]},
"encoding": {"x": {"field": "t", "type": "quantitative", "scale": {"domain": [20, 70], "nice": false, "zero": false}}}
},
{
"data": {"name": "major"},
"mark": {"type": "rule", "color": "#85858a", "strokeWidth": 2.5, "strokeDash": [12, 35], "strokeDashOffset": 28},
"encoding": {"x": {"field": "t", "type": "quantitative", "scale": {"domain": [20, 70], "nice": false, "zero": false}}}
},
{
"data": {"name": "bases"},
"mark": {"type": "rule", "strokeWidth": 4},
"encoding": {
"y": {"field": "v", "type": "quantitative", "scale": {"domain": [0, 960], "nice": false, "zero": false}},
"color": {"field": "c", "type": "nominal", "legend": null, "scale": {"domain": ["cubic", "zns", "S20", "S10", "S5", "S0", "hex"], "range": ["#8b9a2c", "#ee6a2c", "#6a50a0", "#7ecb9c", "#2c3b90", "#e4262b", "#111111"]}}
}
},
{
"data": {"name": "sticks"},
"transform": [{"filter": "datum.c == 'cubic'"}],
"mark": {"type": "rule", "strokeWidth": 3, "color": "#8b9a2c"},
"encoding": {
"x": {"field": "t", "type": "quantitative", "scale": {"domain": [20, 70], "nice": false, "zero": false}},
"y": {"field": "v", "type": "quantitative", "scale": {"domain": [0, 960], "nice": false, "zero": false}},
"y2": {"datum": 858}
}
},
{
"data": {"name": "sticks"},
"transform": [{"filter": "datum.c == 'zns'"}],
"mark": {"type": "rule", "strokeWidth": 3, "color": "#ee6a2c"},
"encoding": {
"x": {"field": "t", "type": "quantitative", "scale": {"domain": [20, 70], "nice": false, "zero": false}},
"y": {"field": "v", "type": "quantitative", "scale": {"domain": [0, 960], "nice": false, "zero": false}},
"y2": {"datum": 733}
}
},
{
"data": {"name": "sticks"},
"transform": [{"filter": "datum.c == 'hex'"}],
"mark": {"type": "rule", "strokeWidth": 4, "color": "#111111"},
"encoding": {
"x": {"field": "t", "type": "quantitative", "scale": {"domain": [20, 70], "nice": false, "zero": false}},
"y": {"field": "v", "type": "quantitative", "scale": {"domain": [0, 960], "nice": false, "zero": false}},
"y2": {"datum": 10}
}
},
{
"data": {"name": "curves"},
"transform": [{"filter": "datum.c != 'S0'"}],
"mark": {"type": "line", "strokeWidth": 5, "strokeJoin": "round"},
"encoding": {
"x": {"field": "t", "type": "quantitative", "scale": {"domain": [20, 70], "nice": false, "zero": false},
"axis": {"title": "2θ (degree)", "values": [20, 25, 30, 35, 40, 45, 50, 55, 60, 65, 70], "grid": false, "zindex": 1, "domainColor": "#111111", "domainWidth": 3.5, "tickColor": "#111111", "tickWidth": 3, "tickSize": 14, "labelFont": "Liberation Sans", "labelFontSize": 39, "labelFontWeight": "bold", "labelColor": "#111111", "labelPadding": 4, "labelFlush": false, "titleFont": "Liberation Sans", "titleFontSize": 51, "titleFontWeight": "bold", "titleColor": "#111111", "titlePadding": 24, "titleX": 645}},
"y": {"field": "v", "type": "quantitative", "scale": {"domain": [0, 960], "nice": false, "zero": false},
"axis": {"title": "Intensity", "ticks": false, "labels": false, "grid": false, "zindex": 1, "domainColor": "#111111", "domainWidth": 4, "titleFont": "Liberation Sans", "titleFontSize": 50, "titleFontWeight": "bold", "titleColor": "#111111", "titlePadding": 24}},
"color": {"field": "c", "type": "nominal", "legend": null, "scale": {"domain": ["cubic", "zns", "S20", "S10", "S5", "S0", "hex"], "range": ["#8b9a2c", "#ee6a2c", "#6a50a0", "#7ecb9c", "#2c3b90", "#e4262b", "#111111"]}}
}
},
{
"data": {"name": "curves"},
"transform": [{"filter": "datum.c == 'S0'"}],
"mark": {"type": "line", "strokeWidth": 3.5, "strokeJoin": "round"},
"encoding": {
"x": {"field": "t", "type": "quantitative", "scale": {"domain": [20, 70], "nice": false, "zero": false}},
"y": {"field": "v", "type": "quantitative", "scale": {"domain": [0, 960], "nice": false, "zero": false}},
"color": {"field": "c", "type": "nominal", "legend": null, "scale": {"domain": ["cubic", "zns", "S20", "S10", "S5", "S0", "hex"], "range": ["#8b9a2c", "#ee6a2c", "#6a50a0", "#7ecb9c", "#2c3b90", "#e4262b", "#111111"]}}
}
},
{
"data": {"name": "big"},
"mark": {"type": "text", "align": "right", "baseline": "middle", "fontSize": 45, "fontWeight": "bold", "font": "Liberation Sans"},
"encoding": {
"x": {"field": "t", "type": "quantitative", "scale": {"domain": [20, 70], "nice": false, "zero": false}},
"y": {"field": "v", "type": "quantitative", "scale": {"domain": [0, 960], "nice": false, "zero": false}},
"text": {"field": "txt"},
"color": {"field": "c", "type": "nominal", "legend": null, "scale": {"domain": ["cubic", "zns", "S20", "S10", "S5", "S0", "hex"], "range": ["#8b9a2c", "#ee6a2c", "#6a50a0", "#7ecb9c", "#2c3b90", "#e4262b", "#111111"]}}
}
},
{
"data": {"name": "subs"},
"mark": {"type": "text", "align": "left", "baseline": "middle", "fontSize": 27, "fontWeight": "bold", "font": "Liberation Sans"},
"encoding": {
"x": {"field": "t", "type": "quantitative", "scale": {"domain": [20, 70], "nice": false, "zero": false}},
"y": {"field": "v", "type": "quantitative", "scale": {"domain": [0, 960], "nice": false, "zero": false}},
"text": {"field": "txt"},
"color": {"field": "c", "type": "nominal", "legend": null, "scale": {"domain": ["cubic", "zns", "S20", "S10", "S5", "S0", "hex"], "range": ["#8b9a2c", "#ee6a2c", "#6a50a0", "#7ecb9c", "#2c3b90", "#e4262b", "#111111"]}}
}
},
{
"data": {"name": "hexlabel"},
"mark": {"type": "text", "align": "right", "baseline": "middle", "fontSize": 45, "font": "Liberation Sans", "color": "#151515"},
"encoding": {
"x": {"field": "t", "type": "quantitative", "scale": {"domain": [20, 70], "nice": false, "zero": false}},
"y": {"field": "v", "type": "quantitative", "scale": {"domain": [0, 960], "nice": false, "zero": false}},
"text": {"field": "txt"}
}
},
{
"data": {"name": "millerH"},
"mark": {"type": "text", "align": "center", "baseline": "middle", "fontSize": 35, "font": "Liberation Sans", "color": "#151515"},
"encoding": {
"x": {"field": "t", "type": "quantitative", "scale": {"domain": [20, 70], "nice": false, "zero": false}},
"y": {"field": "v", "type": "quantitative", "scale": {"domain": [0, 960], "nice": false, "zero": false}},
"text": {"field": "txt"}
}
},
{
"data": {"name": "millerS"},
"mark": {"type": "text", "align": "center", "baseline": "middle", "fontSize": 29, "font": "Liberation Sans", "color": "#151515"},
"encoding": {
"x": {"field": "t", "type": "quantitative", "scale": {"domain": [20, 70], "nice": false, "zero": false}},
"y": {"field": "v", "type": "quantitative", "scale": {"domain": [0, 960], "nice": false, "zero": false}},
"text": {"field": "txt"}
}
},
{
"data": {"name": "millerRtop"},
"mark": {"type": "text", "align": "center", "baseline": "middle", "angle": 270, "fontSize": 33, "fontWeight": "bold", "font": "Liberation Sans", "color": "#151515"},
"encoding": {
"x": {"field": "t", "type": "quantitative", "scale": {"domain": [20, 70], "nice": false, "zero": false}},
"y": {"field": "v", "type": "quantitative", "scale": {"domain": [0, 960], "nice": false, "zero": false}},
"text": {"field": "txt"}
}
},
{
"data": {"name": "millerR"},
"mark": {"type": "text", "align": "center", "baseline": "middle", "angle": 270, "fontSize": 35, "font": "Liberation Sans", "color": "#151515"},
"encoding": {
"x": {"field": "t", "type": "quantitative", "scale": {"domain": [20, 70], "nice": false, "zero": false}},
"y": {"field": "v", "type": "quantitative", "scale": {"domain": [0, 960], "nice": false, "zero": false}},
"text": {"field": "txt"}
}
}
]
}
